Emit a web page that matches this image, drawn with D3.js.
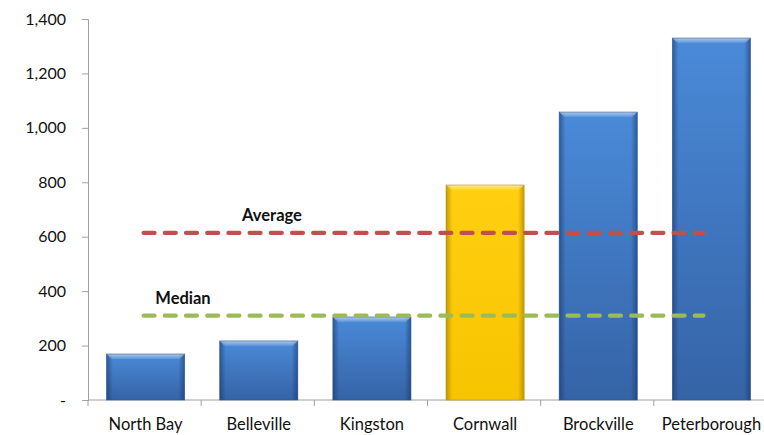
<!DOCTYPE html>
<html><head><meta charset="utf-8">
<script src="https://cdn.jsdelivr.net/npm/d3@7"></script>
<style>body{margin:0;background:#fff;}svg{display:block;font-family:Lato,"Open Sans",sans-serif;}</style>
</head><body>
<svg id="c" width="764" height="435"></svg>
<script>
const categories = ["North Bay","Belleville","Kingston","Cornwall","Brockville","Peterborough"];
const values = [169, 217, 305, 790, 1058, 1330];
const highlight = "Cornwall";
const averageValue = 614;
const medianValue = 310;
const yTicks = [0,200,400,600,800,1000,1200,1400];

const svg = d3.select("#c");
const x = d3.scaleBand().domain(categories).range([89, 768]).paddingInner(0.31).paddingOuter(0.155);
const y = d3.scaleLinear().domain([0,1400]).range([400, 19]);

const defs = svg.append("defs");
function grad(id, stops, vertical){
  const g = defs.append("linearGradient").attr("id", id)
    .attr("x1",0).attr("y1",0).attr("x2", vertical?0:1).attr("y2", vertical?1:0);
  stops.forEach(s=>g.append("stop").attr("offset",s[0]).attr("stop-color",s[1]));
}
grad("blueV", [[0,"#4a8ad8"],[1,"#3563a6"]], true);
grad("blueH", [[0,"rgba(20,50,100,0.55)"],[0.08,"rgba(20,50,100,0)"],[0.92,"rgba(20,50,100,0)"],[1,"rgba(20,50,100,0.55)"]], false);
grad("yelV", [[0,"#ffcf10"],[1,"#f7c400"]], true);
grad("yelH", [[0,"rgba(150,110,0,0.55)"],[0.08,"rgba(150,110,0,0)"],[0.92,"rgba(150,110,0,0)"],[1,"rgba(150,110,0,0.55)"]], false);
grad("topHi", [[0,"rgba(255,255,255,0.55)"],[1,"rgba(255,255,255,0.1)"]], true);

// y axis
const yAxis = svg.append("g").attr("transform","translate(88,0)")
  .call(d3.axisLeft(y).tickValues(yTicks).tickSize(6).tickPadding(16)
    .tickFormat(d => d===0 ? "-" : d3.format(",")(d)));
yAxis.select(".domain").attr("stroke","#a0a0a0");
yAxis.selectAll(".tick line").attr("stroke","#a0a0a0");
yAxis.selectAll("text").attr("font-size",16).attr("fill","#111").attr("font-family","Lato,sans-serif");

// x axis
const xAxis = svg.append("g").attr("transform","translate(0,400)")
  .call(d3.axisBottom(x).tickSize(0).tickPadding(18));
xAxis.select(".domain").attr("stroke","#a0a0a0").attr("d","M88,0H764");
xAxis.selectAll("text").attr("font-size",16.5).attr("fill","#111").attr("font-family","Lato,sans-serif");
const step = x.step();
const boundaries = d3.range(categories.length+1).map(i => 88 + i*step);
xAxis.selectAll(".bnd").data(boundaries).enter().append("line")
  .attr("x1",d=>d).attr("x2",d=>d).attr("y1",0).attr("y2",6).attr("stroke","#a0a0a0");

// bars
const bars = svg.append("g");
categories.forEach((c,i)=>{
  const hl = c===highlight;
  const bx = x(c), bw = x.bandwidth(), by = y(values[i]), bh = y(0)-y(values[i]);
  bars.append("rect").attr("x",bx).attr("y",by).attr("width",bw).attr("height",bh)
    .attr("fill", hl?"url(#yelV)":"url(#blueV)");
  bars.append("rect").attr("x",bx).attr("y",by).attr("width",bw).attr("height",bh)
    .attr("fill", hl?"url(#yelH)":"url(#blueH)");
  bars.append("path")
    .attr("d",`M${bx},${by}H${bx+bw}L${bx+bw-5},${by+5}H${bx+5}Z`)
    .attr("fill","url(#topHi)");
  bars.append("rect").attr("x",bx).attr("y",by).attr("width",bw).attr("height",bh)
    .attr("fill","none").attr("stroke", hl?"#b58f00":"#2b558f").attr("stroke-width",0.8).attr("stroke-opacity",0.7);
});

// reference lines
const x0 = x(categories[0]) + x.bandwidth()/2 - 2;
const x1 = x(categories[categories.length-1]) + x.bandwidth()/2 - 8;
const refs = [
  {label:"Average", v:averageValue, color:"#c0504d", lx:272},
  {label:"Median", v:medianValue, color:"#9bbb59", lx:183}
];
refs.forEach(r=>{
  svg.append("line").attr("x1",x0).attr("x2",x1).attr("y1",y(r.v)).attr("y2",y(r.v))
    .attr("stroke",r.color).attr("stroke-width",4.2).attr("stroke-linecap","round")
    .attr("stroke-dasharray","11,10.2");
  svg.append("text").attr("x",r.lx).attr("y",y(r.v)-12).attr("text-anchor","middle")
    .attr("font-size",16.5).attr("font-weight","bold").attr("fill","#111").text(r.label);
});
</script>
</body></html>
